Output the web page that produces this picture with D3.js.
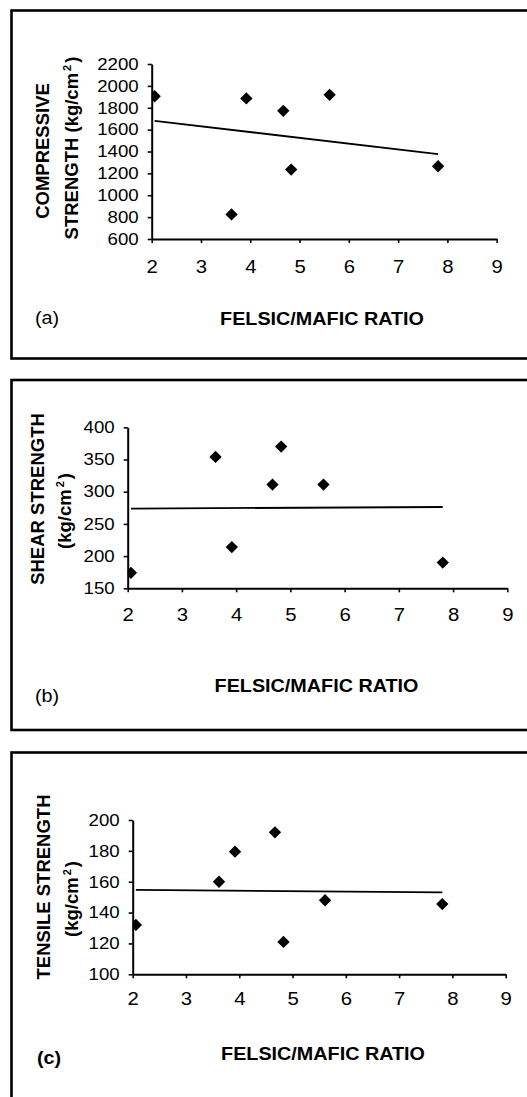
<!DOCTYPE html>
<html>
<head>
<meta charset="utf-8">
<script src="https://cdn.jsdelivr.net/npm/d3@7/dist/d3.min.js"></script>
<style>
  html, body { margin: 0; padding: 0; background: #fff; }
  svg { display: block; }
  text { font-family: "Liberation Sans", Arial, Helvetica, sans-serif; fill: #000; }
</style>
</head>
<body>
<svg id="chart" width="527" height="1097"></svg>
<script>
// Felsic/mafic ratio of each sample (shared x values of the three plots)
const felsicMaficRatio = [2.06, 3.62, 3.92, 4.67, 4.83, 5.61, 7.81];

// Strength measurements per sample, kg/cm²
const compressiveStrength = [1905, 825, 1885, 1772, 1235, 1918, 1265];
const shearStrength       = [174, 354, 214, 311, 370, 311, 190];
const tensileStrength     = [132, 160, 179.5, 192, 121, 148, 145.5];

// Axis tick values
const ratioTicks       = [2, 3, 4, 5, 6, 7, 8, 9];
const compressiveTicks = [600, 800, 1000, 1200, 1400, 1600, 1800, 2000, 2200];
const shearTicks       = [150, 200, 250, 300, 350, 400];
const tensileTicks     = [100, 120, 140, 160, 180, 200];

// Text
const xTitle = "FELSIC/MAFIC RATIO";

const svg = d3.select("#chart");
const STRETCH = 1.13; // horizontal widening of upright labels

const panels = [
  {
    id: "a", label: "(a)", labelBold: false,
    values: compressiveStrength, yTicks: compressiveTicks,
    titleLines: ["COMPRESSIVE", "STRENGTH (kg/cm"], titleSup: [false, true],
    frame: [10.5, 358.5],
    plot: { x0: 151.7, x1: 496.7, top: 64, bottom: 239 },
    titleX: [42, 71], titleY: [151, 148],
    xTitlePos: [322, 325], labelPos: [35, 324], tickPad: 17
  },
  {
    id: "b", label: "(b)", labelBold: false,
    values: shearStrength, yTicks: shearTicks,
    titleLines: ["SHEAR STRENGTH", "(kg/cm"], titleSup: [false, true],
    frame: [380, 730],
    plot: { x0: 127.7, x1: 507.3, top: 427.3, bottom: 588.3 },
    titleX: [37, 64], titleY: [499, 511],
    xTitlePos: [316.5, 691.5], labelPos: [35, 702], tickPad: 16
  },
  {
    id: "c", label: "(c)", labelBold: true,
    values: tensileStrength, yTicks: tensileTicks,
    titleLines: ["TENSILE STRENGTH", "(kg/cm"], titleSup: [false, true],
    frame: [752.5, 1120],
    plot: { x0: 132.7, x1: 505.7, top: 820, bottom: 974.3 },
    titleX: [43, 71], titleY: [887, 899],
    xTitlePos: [323, 1060], labelPos: [37, 1064], tickPad: 14
  }
];

// Least-squares line through the samples
function fitLine(xs, ys) {
  const mx = d3.mean(xs), my = d3.mean(ys);
  let sxy = 0, sxx = 0;
  xs.forEach((x, i) => { sxy += (x - mx) * (ys[i] - my); sxx += (x - mx) * (x - mx); });
  const slope = sxy / sxx;
  return x => my + slope * (x - mx);
}

function stretchText(sel) {
  sel.each(function () {
    const t = d3.select(this);
    const x = +t.attr("x") || 0;
    const y = +t.attr("y") || 0;
    t.attr("x", 0).attr("y", 0)
     .attr("transform", `translate(${x},${y}) scale(${STRETCH},1)`);
  });
}

panels.forEach(p => {
  const g = svg.append("g").attr("class", "panel-" + p.id);

  // Frame around the panel (open to the right edge)
  g.append("rect")
    .attr("x", 11.5).attr("y", p.frame[0])
    .attr("width", 640).attr("height", p.frame[1] - p.frame[0])
    .attr("fill", "none").attr("stroke", "#000").attr("stroke-width", 2.6);

  const yMin = d3.min(p.yTicks), yMax = d3.max(p.yTicks);
  const x = d3.scaleLinear().domain([2, 9]).range([p.plot.x0, p.plot.x1]);
  const y = d3.scaleLinear().domain([yMin, yMax]).range([p.plot.bottom, p.plot.top]);

  // Y axis
  const ya = g.append("g")
    .attr("transform", `translate(${p.plot.x0},0)`)
    .call(d3.axisLeft(y).tickValues(p.yTicks).tickSize(4).tickSizeOuter(0)
      .tickPadding(9).tickFormat(d3.format("d")));
  ya.select(".domain").attr("stroke", "#000").attr("stroke-width", 2);
  ya.selectAll(".tick line").attr("stroke", "#000").attr("stroke-width", 1.6);
  ya.selectAll(".tick text")
    .attr("font-size", 16.5).attr("fill", "#000")
    .call(sel => sel.each(function () {
      const t = d3.select(this);
      t.attr("transform", `scale(${STRETCH},1)`).attr("x", -13 / STRETCH);
    }));
  ya.attr("font-family", null);

  // X axis
  const xa = g.append("g")
    .attr("transform", `translate(0,${p.plot.bottom})`)
    .call(d3.axisBottom(x).tickValues(ratioTicks).tickSize(4).tickSizeOuter(0)
      .tickPadding(p.tickPad).tickFormat(d3.format("d")));
  xa.select(".domain").attr("stroke", "#000").attr("stroke-width", 2);
  xa.selectAll(".tick line").attr("stroke", "#000").attr("stroke-width", 1.6);
  xa.selectAll(".tick text")
    .attr("font-size", 18).attr("fill", "#000");
  stretchText(xa.selectAll(".tick text"));
  xa.attr("font-family", null);

  // Clip marks to the plot area
  const clipId = "clip-" + p.id;
  g.append("clipPath").attr("id", clipId)
    .append("rect")
    .attr("x", p.plot.x0).attr("y", p.plot.top - 10)
    .attr("width", p.plot.x1 - p.plot.x0).attr("height", p.plot.bottom - p.plot.top + 10);

  const marks = g.append("g").attr("clip-path", `url(#${clipId})`);

  // Linear trend line across the sample range
  const fit = fitLine(felsicMaficRatio, p.values);
  const xr = d3.extent(felsicMaficRatio);
  marks.append("path")
    .attr("d", d3.line()([[x(xr[0]), y(fit(xr[0]))], [x(xr[1]), y(fit(xr[1]))]]))
    .attr("stroke", "#000").attr("stroke-width", 1.8).attr("fill", "none");

  // Diamond markers
  const diamond = d3.symbol(d3.symbolSquare, 76);
  marks.selectAll("path.pt")
    .data(felsicMaficRatio.map((r, i) => [r, p.values[i]]))
    .join("path").attr("class", "pt")
    .attr("d", diamond)
    .attr("transform", d => `translate(${x(d[0])},${y(d[1])}) rotate(45)`)
    .attr("fill", "#000");

  // Y title (rotated, two lines)
  p.titleLines.forEach((line, i) => {
    const t = g.append("text")
      .attr("transform", `translate(${p.titleX[i]},${p.titleY[i]}) rotate(-90)`)
      .attr("text-anchor", "middle")
      .attr("dy", "0.36em")
      .attr("font-size", 18.5).attr("font-weight", "bold");
    if (p.titleSup[i]) {
      // line ending in "(kg/cm²)" with raised small 2
      const head = line.slice(0, line.lastIndexOf("(kg/cm"));
      if (head) t.append("tspan").text(head);
      t.append("tspan").text("(kg/cm");
      t.append("tspan").attr("font-size", 11).attr("dy", -7).attr("dx", 2).text("2");
      t.append("tspan").attr("dy", 7).attr("dx", 2).text(")");
    } else {
      t.text(line);
    }
  });

  // X title
  const xt = g.append("text")
    .attr("x", p.xTitlePos[0]).attr("y", p.xTitlePos[1])
    .attr("text-anchor", "middle")
    .attr("font-size", 17.5).attr("font-weight", "bold")
    .text(xTitle);
  stretchText(xt);

  // Panel letter
  const lt = g.append("text")
    .attr("x", p.labelPos[0]).attr("y", p.labelPos[1])
    .attr("font-size", 17.5).attr("font-weight", p.labelBold ? "bold" : "normal")
    .text(p.label);
  stretchText(lt);
});
</script>
</body>
</html>
